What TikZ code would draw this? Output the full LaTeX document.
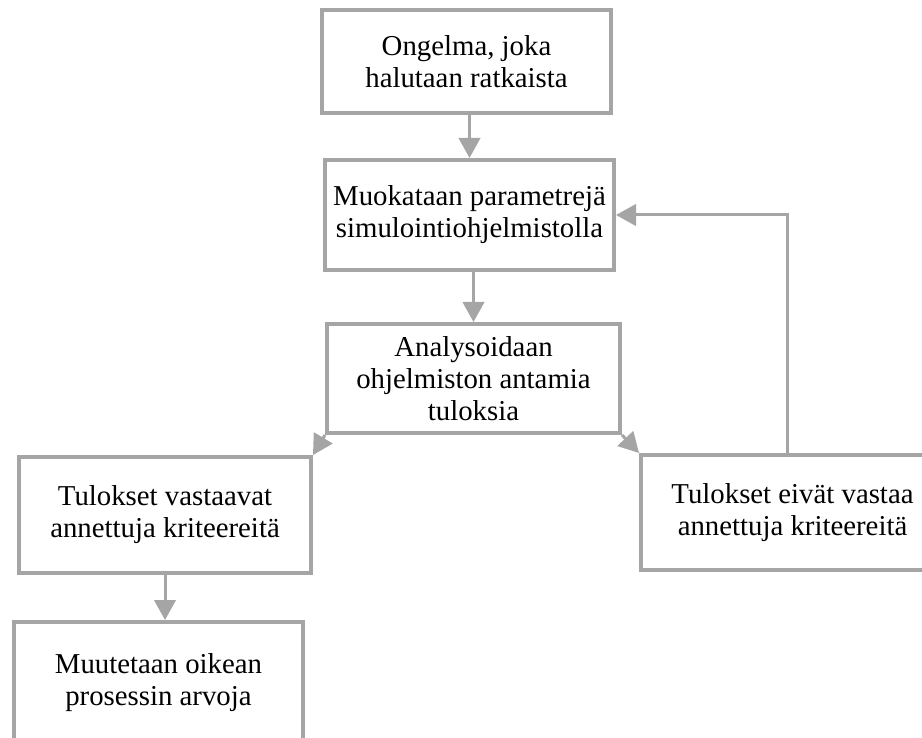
\documentclass[tikz,border=0pt]{standalone}
\usepackage{fontspec}
\setmainfont{Liberation Serif}
\usepackage{xcolor}
\usepackage{tikz}
\usetikzlibrary{arrows.meta}

\definecolor{boxgray}{RGB}{165,165,165}
\tikzset{
  flowbox/.style={draw=boxgray, line width=3pt, fill=white, align=center,
    inner sep=0pt, font=\fontsize{21.6pt}{24pt}\selectfont},
  flowarrow/.style={draw=boxgray, line width=2.25pt,
    -{Triangle[length=15pt,width=16pt,fill=boxgray]}}
}

\begin{document}
\begin{tikzpicture}[x=0.75pt,y=0.75pt,yscale=-1,xscale=1]
\clip (0,0) rectangle (922,738);

% Boxes
\node [flowbox, minimum width=216.75pt, minimum height=77.25pt] (problem) at (466.5,61.5) {Ongelma, joka\\halutaan ratkaista};
\node [flowbox, minimum width=216.75pt, minimum height=82.5pt] (tune) at (469.5,215) {Muokataan parametrejä\\simulointiohjelmistolla};
\node [flowbox, minimum width=219.75pt, minimum height=81.75pt] (analyse) at (473.5,378.5) {Analysoidaan\\ohjelmiston antamia\\tuloksia};
\node [flowbox, minimum width=219pt, minimum height=87pt] (match) at (165,515) {Tulokset vastaavat\\annettuja kriteereitä};
\node [flowbox, minimum width=227.25pt, minimum height=86.25pt] (nomatch) at (792.5,512.5) {Tulokset eivät vastaa\\annettuja kriteereitä};
\node [flowbox, minimum width=216.75pt, minimum height=90.75pt] (apply) at (158.5,682.5) {Muutetaan oikean\\prosessin arvoja};

% Arrows
\draw [flowarrow] (tune.north |- problem.south) -- (tune.north);
\draw [flowarrow] (analyse.north |- tune.south) -- (analyse.north);
\draw [flowarrow] (analyse.south west) -- (match.north east);
\draw [flowarrow] (analyse.south east) -- (nomatch.north west);
\draw [flowarrow] ([xshift=-4pt]nomatch.north) |- (tune.east);
\draw [flowarrow] (match.south) -- (match.south |- apply.north);

\end{tikzpicture}
\end{document}
